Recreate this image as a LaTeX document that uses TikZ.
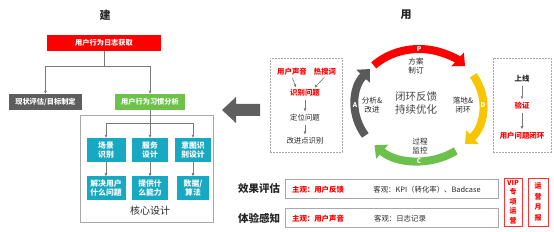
\documentclass[tikz,border=0pt]{standalone}
\usepackage{fontspec}
\setmainfont{Noto Sans CJK SC}
\usetikzlibrary{arrows.meta, positioning, calc}

\definecolor{logred}{HTML}{FF0000}
\definecolor{statusgray}{HTML}{5E5E5E}
\definecolor{habitgreen}{HTML}{6CC24A}
\definecolor{cyanbox}{HTML}{17A9C2}
\definecolor{linegray}{HTML}{7A7A7A}
\definecolor{framegray}{HTML}{A8A8A8}
\definecolor{arrowgray}{HTML}{5F5F5F}
\definecolor{darktext}{HTML}{262626}
\definecolor{pdred}{HTML}{FF0000}
\definecolor{pdyellow}{HTML}{F7C600}
\definecolor{pdgreen}{HTML}{6DC04B}
\definecolor{pdgray}{HTML}{5A5A5A}

\newcommand\fsz[2]{\fontsize{#1}{#2}\selectfont}

\begin{document}
\begin{tikzpicture}[
  x=1pt, y=-1pt,
  topbox/.style ={inner sep=0pt, minimum height=16pt, text=white,
                  font=\fsz{7.2}{9}\bfseries},
  cbox/.style   ={fill=cyanbox, inner sep=0pt, minimum height=24pt, align=center,
                  text=white, font=\fsz{7.8}{9.2}\bfseries},
  dbox/.style   ={draw=framegray, dash pattern=on 1.6pt off 1.4pt, line width=0.6pt,
                  inner sep=0pt},
  rowbox/.style ={draw=framegray, line width=0.9pt, inner sep=0pt},
  redbox/.style ={draw=logred!80, line width=0.7pt, inner sep=0pt, align=center,
                  text=logred, font=\fsz{7}{9.4}\bfseries},
  redtxt/.style ={text=logred, font=\fsz{7.4}{9}\bfseries, inner sep=1pt},
  darktxt/.style={text=darktext, font=\fsz{7.4}{9}, inner sep=1pt},
  lbl/.style    ={text=darktext, font=\fsz{7.6}{9.4}, align=center, inner sep=0pt},
  line/.style   ={draw=linegray, line width=0.6pt},
  arr/.style    ={draw=linegray, line width=0.6pt, -{Triangle[length=3pt, width=2.6pt]}},
  cyc/.style    ={line width=8pt, -{Triangle[length=10pt, width=18pt]}},
  cycletter/.style={text=white, font=\fsz{6.5}{7}\bfseries, inner sep=0pt},
]
\useasboundingbox (0,0) rectangle (554,232);

%% ---- Left side: build ----
\node[font=\fsz{11}{13}\bfseries, text=darktext] (jian) at (105,15) {建};
\node[topbox, fill=logred, minimum width=114pt] (log) at (104,43) {用户行为日志获取};
\node[topbox, fill=statusgray, minimum width=73pt] (status) at (45.5,102) {现状评估/目标制定};
\node[topbox, fill=habitgreen, minimum width=70pt] (habit) at (150,102) {用户行为习惯分析};

%% log -> two branches
\coordinate (fork1) at ($(log.south)+(0,15)$);
\draw[line] (log.south) -- (fork1);
\draw[arr] (fork1) -| (status.north);
\draw[arr] (fork1) -| (habit.north);

%% ---- Core design frame ----
\node[draw=framegray, line width=0.9pt, minimum width=133pt, minimum height=107pt,
      inner sep=0pt] (core) at (146.5,168.5) {};
\node[cbox, minimum width=39pt] (scene)   at (106,150) {场景\\识别};
\node[cbox, minimum width=36pt] (service) at (150,150) {服务\\设计};
\node[cbox, minimum width=36pt] (intent)  at (193,150) {意图识\\别设计};
\node[cbox, minimum width=39pt, below=14pt of scene]   (problem) {解决用户\\什么问题};
\node[cbox, minimum width=36pt, below=14pt of service] (ability) {提供什\\么能力};
\node[cbox, minimum width=32pt, below=14pt of intent]  (algo)    {数据/\\算法};
\node[font=\fsz{10}{12}, text=darktext] (coretitle) at (150,211) {核心设计};

\coordinate (fork2) at ($(habit.south)+(0,13)$);
\draw[line] (habit.south) -- (fork2);
\draw[arr] (fork2) -| (scene.north);
\draw[arr] (fork2) -- (service.north);
\draw[arr] (fork2) -| (intent.north);
\draw[arr] (scene.south)   -- (problem.north);
\draw[arr] (service.south) -- (ability.north);
\draw[arr] (intent.south)  -- (algo.north);

%% ---- Big arrow: use -> build ----
\fill[arrowgray] (222,110) -- (236,97) -- (236,104) -- (260,104) -- (260,116)
  -- (236,116) -- (236,123) -- cycle;

%% ---- Right side: use ----
\node[font=\fsz{11}{13}\bfseries, text=darktext] (yong) at (406,15) {用};

%% problem finding box
\node[dbox, minimum width=72pt, minimum height=94pt] (findbox) at (306,105) {};
\node[redtxt] (voice)   at (292,72)  {用户声音};
\node[redtxt] (hot)     at (325,72)  {热搜词};
\node[redtxt] (ident)   at (305,93)  {识别问题};
\node[darktxt] (locate)  at (305,118) {定位问题};
\node[darktxt] (improve) at (305,141) {改进点识别};
\draw[arr, shorten <=1pt, shorten >=1pt] (voice.south) -- ($(ident.north)!0.55!(ident.north west)$);
\draw[arr, shorten <=1pt, shorten >=1pt] (hot.south) -- ($(ident.north)!0.55!(ident.north east)$);
\draw[arr, shorten <=2pt, shorten >=2pt] (ident.south) -- (locate.north);
\draw[arr, shorten <=2pt, shorten >=2pt] (locate.south) -- (improve.north);

%% PDCA cycle
\coordinate (ctr) at (419,105);
\draw[cyc, draw=pdred]    ($(ctr)+(-135:64 and 56)$) arc[start angle=-135, end angle=-44, x radius=64, y radius=56];
\draw[cyc, draw=pdyellow] ($(ctr)+(-32:64 and 56)$)  arc[start angle=-32,  end angle=44,  x radius=64, y radius=56];
\draw[cyc, draw=pdgreen]  ($(ctr)+(55:64 and 56)$)   arc[start angle=55,   end angle=134, x radius=64, y radius=56];
\draw[cyc, draw=pdgray]   ($(ctr)+(147:64 and 56)$)  arc[start angle=147,  end angle=220, x radius=64, y radius=56];
\node[cycletter] (letterP) at ($(ctr)+(-90:64 and 56)$) {P};
\node[cycletter] (letterD) at ($(ctr)+(0:64 and 56)$)   {D};
\node[cycletter] (letterC) at ($(ctr)+(90:64 and 56)$)  {C};
\node[cycletter] (letterA) at ($(ctr)+(180:64 and 56)$) {A};
\node[lbl] (plan)    at (416,66)  {方案\\制订};
\node[lbl] (land)    at (463,105) {落地\&\\闭环};
\node[lbl] (monitor) at (420,146) {过程\\监控};
\node[lbl] (analyze) at (372,105) {分析\&\\改进};
\node[lbl, font=\fsz{10.5}{13.5}, text=darktext!85] (loopfb) at (416,103) {闭环反馈\\持续优化};

%% launch box
\node[dbox, minimum width=58pt, minimum height=94pt] (launchbox) at (522,105) {};
\node[darktxt, font=\fsz{7.4}{9}\bfseries] (launch) at (522,79) {上线};
\node[redtxt] (verify)    at (522,106) {验证};
\node[redtxt] (closeloop) at (522,136) {用户问题闭环};
\draw[arr, shorten <=2pt, shorten >=2pt] (launch.south) -- (verify.north);
\draw[arr, shorten <=2pt, shorten >=2pt] (verify.south) -- (closeloop.north);

%% ---- Bottom rows ----
\node[font=\fsz{10.5}{12}\bfseries, text=darktext] (effect) at (259,189) {效果评估};
\node[rowbox, minimum width=213pt, minimum height=19pt] (effrow) at (391.5,188.5) {};
\node[redtxt]  (subj1) at (318,189.5) {主观：用户反馈};
\node[darktxt] (obj1)  at (427,189.5) {客观：KPI（转化率）、Badcase};

\node[font=\fsz{10.5}{12}\bfseries, text=darktext] (feel) at (259,218) {体验感知};
\node[rowbox, minimum width=213pt, minimum height=19pt] (feelrow) at (391.5,217.5) {};
\node[redtxt]  (subj2) at (318,218.5) {主观：用户声音};
\node[darktxt] (obj2)  at (400,218.5) {客观：日志记录};

\node[redbox, minimum width=18pt, minimum height=48pt] (vip)     at (513,202) {VIP\\专\\项\\运\\营};
\node[redbox, minimum width=20pt, minimum height=48pt, font=\fsz{7}{10.5}\bfseries] (monthly) at (538,202) {运\\营\\月\\报};

\end{tikzpicture}
\end{document}
